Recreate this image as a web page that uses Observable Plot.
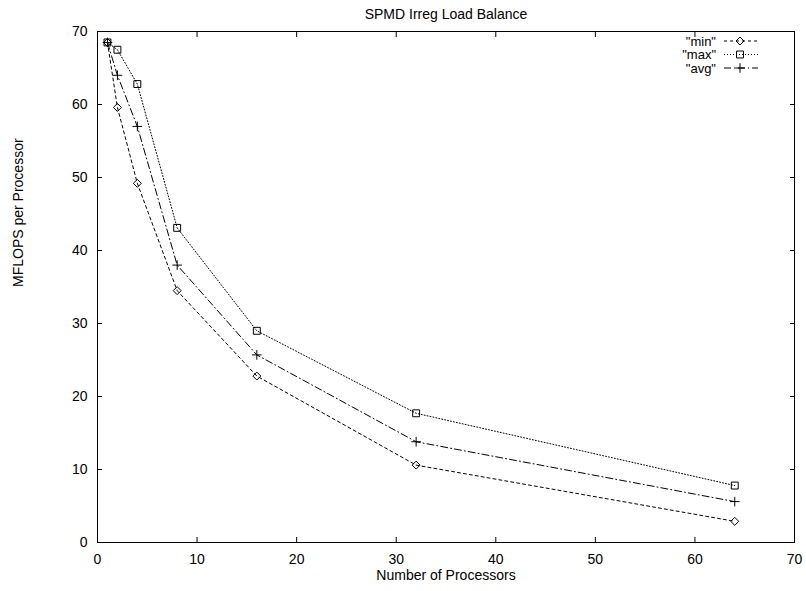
<!DOCTYPE html>
<html><head><meta charset="utf-8">
<script src="https://cdn.jsdelivr.net/npm/d3@7"></script>
<script src="https://cdn.jsdelivr.net/npm/@observablehq/plot@0.6"></script>
<style>
body{margin:0;background:#fff;}
#chart{position:relative;width:806px;height:591px;font-family:"Liberation Sans",Arial,sans-serif;}
#legend{position:absolute;left:0;top:0;pointer-events:none;}
</style></head><body><div id="chart"></div>
<script>
const procs = [1, 2, 4, 8, 16, 32, 64];
const minVals = [68.5, 59.6, 49.2, 34.5, 22.8, 10.6, 2.9];
const maxVals = [68.5, 67.5, 62.8, 43.1, 29.0, 17.7, 7.8];
const avgVals = [68.5, 64.0, 57.0, 38.0, 25.7, 13.8, 5.6];
const seriesNames = ['"min"', '"max"', '"avg"'];
const xTicks = [0, 10, 20, 30, 40, 50, 60, 70];
const yTicks = [0, 10, 20, 30, 40, 50, 60, 70];
const title = "SPMD Irreg Load Balance";
const xLabel = "Number of Processors";
const yLabel = "MFLOPS per Processor";

const styles = [
  {dash: "3,3", symbol: "diamond2", r: 3.6},
  {dash: "1,2", symbol: "square2", r: 4.4},
  {dash: "7,3,1,3", symbol: "plus", r: 3.2}
];
const seriesVals = [minVals, maxVals, avgVals];
const series = seriesNames.map((name, k) =>
  procs.map((p, i) => ({p, v: seriesVals[k][i], s: name})));

const W = 806, H = 591, ML = 97, MR = 12, MT = 31, MB = 49;

const marks = [
  Plot.frame({stroke: "#000", strokeWidth: 1}),
  Plot.axisX(xTicks, {anchor: "bottom", tickSize: -5, tickPadding: 17, label: null, stroke: "#000"}),
  Plot.axisX(xTicks, {anchor: "top", tickSize: -5, tickFormat: () => "", label: null, stroke: "#000"}),
  Plot.axisY(yTicks, {anchor: "left", tickSize: -5, tickPadding: 15, label: null, stroke: "#000"}),
  Plot.axisY(yTicks, {anchor: "right", tickSize: -5, tickFormat: () => "", label: null, stroke: "#000"}),
  Plot.text([title], {frameAnchor: "top", dy: -17, lineAnchor: "middle", fontSize: 14, fill: "#000"}),
  Plot.text([xLabel], {frameAnchor: "bottom", dy: 33, lineAnchor: "middle", fontSize: 14, fill: "#000"}),
  Plot.text([yLabel], {frameAnchor: "left", dx: -79, rotate: -90, lineAnchor: "middle", fontSize: 14, fill: "#000"})
];
series.forEach((d, k) => {
  marks.push(Plot.line(d, {x: "p", y: "v", stroke: "#000", strokeWidth: 1, strokeDasharray: styles[k].dash}));
  marks.push(Plot.dot(d, {x: "p", y: "v", symbol: styles[k].symbol, r: styles[k].r, stroke: "#000", fill: "none", strokeWidth: 1}));
});

const chart = Plot.plot({
  width: W, height: H,
  marginLeft: ML, marginRight: MR, marginTop: MT, marginBottom: MB,
  x: {domain: [0, 70]},
  y: {domain: [0, 70]},
  style: {fontFamily: '"Liberation Sans", Arial, sans-serif', fontSize: "14px", color: "#000", background: "#fff"},
  marks
});
document.getElementById("chart").appendChild(chart);

// legend overlay (gnuplot key inside the plot)
const lg = d3.select("#chart").append("svg").attr("id", "legend").attr("width", W).attr("height", H);
const symGen = [d3.symbolDiamond2, d3.symbolSquare2, d3.symbolPlus];
const symSize = styles.map(s => Math.PI * s.r * s.r);
seriesNames.forEach((name, k) => {
  const cy = 41 + k * 13.5;
  lg.append("text").attr("x", 716).attr("y", cy).attr("dy", "0.35em").attr("text-anchor", "end")
    .attr("font-family", '"Liberation Sans", Arial, sans-serif').attr("font-size", 13).attr("fill", "#000").text(name);
  lg.append("line").attr("x1", 724).attr("x2", 758).attr("y1", cy).attr("y2", cy)
    .attr("stroke", "#000").attr("stroke-dasharray", styles[k].dash);
  lg.append("path").attr("transform", `translate(740,${cy})`)
    .attr("d", d3.symbol(symGen[k], symSize[k])()).attr("fill", "none").attr("stroke", "#000");
});
</script></body></html>
